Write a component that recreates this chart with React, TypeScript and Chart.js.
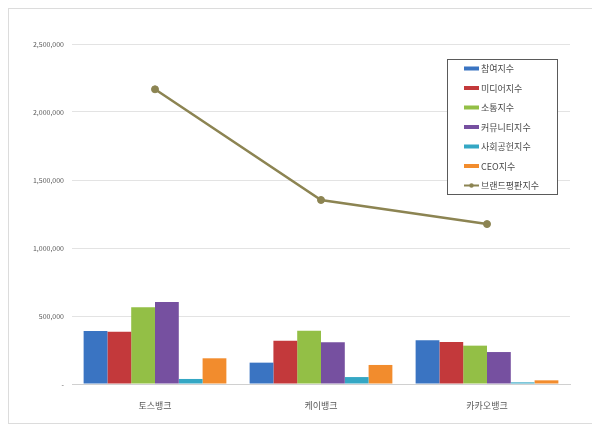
import React, { useEffect, useRef } from 'react';
import { Chart, registerables } from 'chart.js';

Chart.register(...registerables);

const categories = ['토스뱅크', '케이뱅크', '카카오뱅크'];
const seriesNames = ['참여지수', '미디어지수', '소통지수', '커뮤니티지수', '사회공헌지수', 'CEO지수', '브랜드평판지수'];
const participation = [390000, 157000, 321000];
const media = [384000, 318000, 309000];
const communication = [564000, 392000, 282000];
const community = [603000, 307000, 235000];
const socialContribution = [37000, 51000, 12000];
const ceo = [189000, 140000, 27000];
const brandReputation = [2167000, 1353000, 1176000];
const yTicks = [0, 500000, 1000000, 1500000, 2000000, 2500000];

const barColors = ['#3a74c2', '#c3393b', '#93bf46', '#7650a0', '#34a7c4', '#f28c2d'];
const lineColor = '#8c8452';
const font = '"Noto Sans CJK KR", "Noto Sans", sans-serif';

const boxLegend = {
  id: 'boxLegend',
  afterDraw(chart: any) {
    const ctx = chart.ctx;
    const x = 438.5, y = 50.5, w = 110, h = 135;
    ctx.save();
    ctx.fillStyle = '#ffffff';
    ctx.fillRect(x, y, w, h);
    ctx.strokeStyle = '#5a5a5a';
    ctx.lineWidth = 1;
    ctx.strokeRect(x, y, w, h);
    ctx.font = `9px ${font}`;
    ctx.textBaseline = 'middle';
    chart.data.datasets.forEach((ds: any, i: number) => {
      const cy = 59.5 + i * 19.5;
      if (ds.type === 'line') {
        ctx.strokeStyle = ds.borderColor;
        ctx.lineWidth = 2;
        ctx.beginPath();
        ctx.moveTo(455, cy);
        ctx.lineTo(470, cy);
        ctx.stroke();
        ctx.fillStyle = ds.borderColor;
        ctx.beginPath();
        ctx.arc(462.5, cy, 2.2, 0, Math.PI * 2);
        ctx.fill();
      } else {
        ctx.fillStyle = ds.backgroundColor;
        ctx.fillRect(455, cy - 2, 15, 4);
      }
      ctx.fillStyle = '#4a4a4a';
      ctx.fillText(ds.label, 472, cy + 0.5);
    });
    ctx.restore();
  },
};

const App: React.FC = () => {
  const chartRef = useRef<HTMLCanvasElement>(null);

  useEffect(() => {
    if (!chartRef.current) return;
    const ctx = chartRef.current.getContext('2d');
    if (!ctx) return;

    const barData = [participation, media, communication, community, socialContribution, ceo];

    const myChart = new Chart(ctx, {
      type: 'bar',
      data: {
        labels: categories,
        datasets: [
          ...barData.map((d, i) => ({
            type: 'bar' as const,
            label: seriesNames[i],
            data: d,
            backgroundColor: barColors[i],
            categoryPercentage: 0.86,
            barPercentage: 1,
            order: 1,
          })),
          {
            type: 'line' as const,
            label: seriesNames[6],
            data: brandReputation,
            borderColor: lineColor,
            backgroundColor: lineColor,
            pointBackgroundColor: lineColor,
            pointBorderColor: lineColor,
            borderWidth: 2.5,
            pointRadius: 3.5,
            pointBorderWidth: 1,
            tension: 0,
            order: 0,
          } as any,
        ],
      },
      options: {
        animation: false,
        responsive: true,
        maintainAspectRatio: false,
        layout: { padding: { top: 35, right: 22, bottom: 0, left: 0 } },
        plugins: {
          legend: { display: false },
          tooltip: { enabled: false },
        },
        scales: {
          x: {
            grid: { display: false },
            border: { color: '#d0d0d0' },
            ticks: { color: '#595959', font: { family: font, size: 9 }, padding: 8 },
            afterFit: (scale: any) => {
              scale.height = 39;
            },
          },
          y: {
            min: 0,
            max: 2500000,
            afterBuildTicks: (scale: any) => {
              scale.ticks = yTicks.map((v) => ({ value: v }));
            },
            grid: { color: '#e3e3e3', drawTicks: false },
            border: { display: false },
            ticks: {
              color: '#595959',
              font: { family: font, size: 7 },
              padding: 8,
              callback: (v: any) => (Number(v) === 0 ? '-' : Number(v).toLocaleString('en-US')),
            },
            afterFit: (scale: any) => {
              scale.width = 63;
            },
          },
        },
      },
      plugins: [boxLegend],
    });

    return () => {
      myChart.destroy();
    };
  }, []);

  return (
    <div
      style={{
        position: 'relative',
        width: 585,
        height: 416,
        border: '1px solid #dcdcdc',
        boxSizing: 'border-box',
        background: '#fff',
      }}
    >
      <canvas ref={chartRef} />
    </div>
  );
};

export default App;
